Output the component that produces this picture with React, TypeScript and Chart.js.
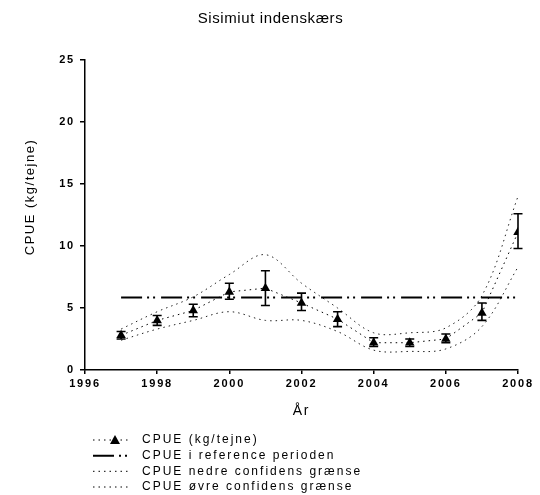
import { useEffect, useRef } from "react";
import { Chart, registerables } from "chart.js";
Chart.register(...registerables);

const TITLE = "Sisimiut indenskærs";
const X_TITLE = "År";
const Y_TITLE = "CPUE (kg/tejne)";
const years = [1997, 1998, 1999, 2000, 2001, 2002, 2003, 2004, 2005, 2006, 2007, 2008];
const cpue = [2.8, 4.0, 4.8, 6.3, 6.6, 5.4, 4.1, 2.2, 2.2, 2.5, 4.6, 11.1];
const cpueErrLow = [2.5, 3.6, 4.3, 5.7, 5.2, 4.8, 3.5, 1.9, 1.9, 2.2, 4.0, 9.8];
const cpueErrHigh = [3.1, 4.4, 5.3, 7.0, 8.0, 6.2, 4.7, 2.6, 2.5, 2.9, 5.4, 12.6];
const refYears = [1997, 2008];
const refValue = 5.85;
const lowerCI = [2.4, 3.3, 4.0, 4.7, 4.0, 4.0, 3.1, 1.6, 1.5, 1.7, 3.5, 8.3];
const upperCI = [3.3, 4.7, 5.9, 7.7, 9.3, 7.0, 5.0, 3.0, 3.0, 3.4, 6.0, 14.0];
const legendLabels = [
  "CPUE (kg/tejne)",
  "CPUE i reference perioden",
  "CPUE nedre confidens grænse",
  "CPUE øvre confidens grænse",
];

const FONT = "'Liberation Sans', Arial, sans-serif";
const DOT = [1.5, 4];
const REF_DASH = [21, 5, 2, 4, 2, 6];

export default function App() {
  const ref = useRef<HTMLCanvasElement>(null);
  useEffect(() => {
    const canvas = ref.current!;
    const spacingPlugin = {
      id: "spacing",
      beforeInit(chart: any) {
        chart.ctx.letterSpacing = "1.8px";
      },
      beforeUpdate(chart: any) {
        chart.ctx.letterSpacing = "1.8px";
      },
    };
    const errorBars = {
      id: "errorBars",
      afterDatasetsDraw(chart: any) {
        const { ctx, scales } = chart;
        const xs = scales.x, ys = scales.y;
        ctx.save();
        ctx.strokeStyle = "#000";
        ctx.lineWidth = 1.6;
        ctx.setLineDash([]);
        years.forEach((yr, i) => {
          const x = xs.getPixelForValue(yr);
          const y1 = ys.getPixelForValue(cpueErrLow[i]);
          const y2 = ys.getPixelForValue(cpueErrHigh[i]);
          ctx.beginPath();
          ctx.moveTo(x, y1); ctx.lineTo(x, y2);
          ctx.moveTo(x - 4.5, y1); ctx.lineTo(x + 4.5, y1);
          ctx.moveTo(x - 4.5, y2); ctx.lineTo(x + 4.5, y2);
          ctx.stroke();
        });
        ctx.restore();
      },
    };
    const extras = {
      id: "extras",
      afterDraw(chart: any) {
        const { ctx } = chart;
        // chart title
        ctx.save();
        ctx.letterSpacing = "0.6px";
        ctx.fillStyle = "#000";
        ctx.font = `15px ${FONT}`;
        ctx.textAlign = "center";
        ctx.textBaseline = "middle";
        ctx.fillText(TITLE, 270.5, 18.5);
        ctx.restore();
        // y axis title
        ctx.save();
        ctx.letterSpacing = "1.5px";
        ctx.fillStyle = "#000";
        ctx.font = `13px ${FONT}`;
        ctx.textAlign = "center";
        ctx.textBaseline = "middle";
        ctx.translate(30, 197);
        ctx.rotate(-Math.PI / 2);
        ctx.fillText(Y_TITLE, 0, 0);
        ctx.restore();
        // legend
        ctx.save();
        const rows = [440, 455.7, 471.3, 487];
        const dashes = [DOT, REF_DASH, DOT, DOT];
        const widths = [1, 2, 1, 1];
        rows.forEach((y, i) => {
          ctx.strokeStyle = "#000";
          ctx.lineWidth = widths[i];
          ctx.setLineDash(dashes[i]);
          ctx.beginPath();
          ctx.moveTo(93, y);
          ctx.lineTo(130, y);
          ctx.stroke();
          if (i === 0) {
            ctx.setLineDash([]);
            ctx.fillStyle = "#000";
            ctx.beginPath();
            ctx.moveTo(115, y - 5);
            ctx.lineTo(120, y + 4);
            ctx.lineTo(110, y + 4);
            ctx.closePath();
            ctx.fill();
          }
          ctx.letterSpacing = "2px";
          ctx.fillStyle = "#000";
          ctx.font = `12px ${FONT}`;
          ctx.textAlign = "left";
          ctx.textBaseline = "middle";
          ctx.fillText(legendLabels[i], 142, y);
        });
        ctx.restore();
      },
    };
    const toXY = (vals: number[]) => vals.map((v, i) => ({ x: years[i], y: v }));
    const chart = new Chart(canvas, {
      type: "line",
      data: {
        datasets: [
          {
            label: legendLabels[0],
            data: toXY(cpue),
            borderColor: "#000",
            backgroundColor: "#000",
            borderWidth: 1,
            borderDash: DOT,
            pointStyle: "triangle",
            pointRadius: 5.5,
            pointBorderWidth: 0,
          },
          {
            label: legendLabels[1],
            data: refYears.map((x) => ({ x, y: refValue })),
            borderColor: "#000",
            borderWidth: 2,
            borderDash: REF_DASH,
            pointRadius: 0,
          },
          {
            label: legendLabels[2],
            data: toXY(lowerCI),
            borderColor: "#222",
            borderWidth: 1,
            borderDash: DOT,
            pointRadius: 0,
            tension: 0.35,
          },
          {
            label: legendLabels[3],
            data: toXY(upperCI),
            borderColor: "#222",
            borderWidth: 1,
            borderDash: DOT,
            pointRadius: 0,
            tension: 0.35,
          },
        ],
      },
      options: {
        animation: false,
        responsive: false,
        devicePixelRatio: 1,
        layout: { padding: { left: 25, right: 22, top: 60, bottom: 75 } },
        plugins: {
          legend: { display: false },
          tooltip: { enabled: false },
          title: { display: false },
        },
        scales: {
          x: {
            type: "linear",
            min: 1996,
            max: 2008,
            ticks: {
              stepSize: 2,
              color: "#000",
              font: { family: FONT, size: 11, weight: "bold" },
              padding: 3,
              maxRotation: 0,
              callback: (v: any) => String(v),
            },
            grid: { drawOnChartArea: false, drawTicks: true, tickLength: 4, color: "#000", lineWidth: 1.5 },
            border: { color: "#000", width: 1.5 },
            title: {
              display: true,
              text: X_TITLE,
              color: "#000",
              font: { family: FONT, size: 14 },
              padding: { top: 0, bottom: 0 },
            },
            afterFit: (s: any) => { s.height = 50; },
          },
          y: {
            min: 0,
            max: 25,
            ticks: {
              stepSize: 5,
              color: "#000",
              font: { family: FONT, size: 11, weight: "bold" },
              padding: 5,
            },
            grid: { drawOnChartArea: false, drawTicks: true, tickLength: 5, color: "#000", lineWidth: 1.5 },
            border: { color: "#000", width: 1.5 },
            afterFit: (s: any) => { s.width = 60; },
          },
        },
      } as any,
      plugins: [spacingPlugin, errorBars, extras],
    });
    return () => chart.destroy();
  }, []);
  return (
    <div style={{ position: "absolute", left: 0, top: 0, width: 540, height: 495, background: "#fff" }}>
      <canvas ref={ref} width={540} height={495} />
    </div>
  );
}
